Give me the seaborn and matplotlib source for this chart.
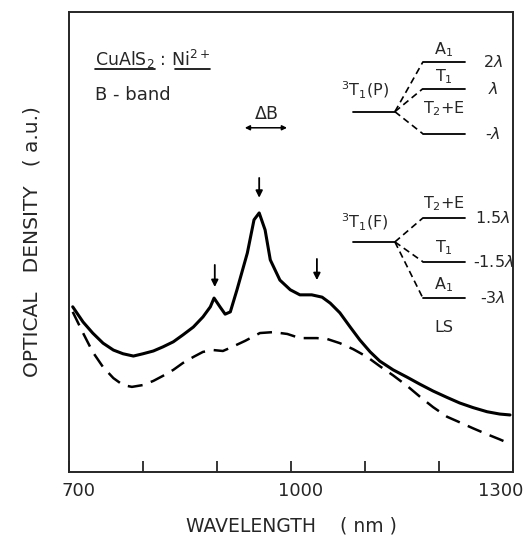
import numpy as np
import pandas as pd
import seaborn as sns
import matplotlib
matplotlib.use("Agg")
import matplotlib.pyplot as plt
from matplotlib.transforms import ScaledTranslation

# absorption spectra (wavelength in nm, optical density in a.u.)
solid_nm = [705, 719, 732, 746, 760, 773, 787, 800, 814, 827, 841, 854, 868, 881,
            891, 896, 904, 911, 918, 927, 941, 950, 957, 965, 972, 985, 999, 1012,
            1028, 1042, 1053, 1066, 1080, 1093, 1107, 1120, 1138, 1157, 1174, 1192,
            1211, 1228, 1246, 1265, 1282, 1296]
solid_od = [35.9, 32.6, 30.2, 28.0, 26.5, 25.7, 25.2, 25.7, 26.3, 27.2, 28.3, 29.8,
            31.5, 33.7, 35.9, 37.8, 35.9, 34.3, 34.8, 39.6, 47.6, 54.8, 56.3, 52.6,
            46.1, 41.7, 39.6, 38.5, 38.5, 38.0, 36.7, 34.6, 31.5, 28.7, 26.1, 24.1,
            22.2, 20.6, 19.1, 17.6, 16.2, 15.0, 14.0, 13.1, 12.6, 12.4]

dashed_nm = [705, 719, 732, 746, 760, 773, 785, 800, 814, 827, 841, 854, 868, 881,
             895, 908, 918, 938, 958, 976, 995, 1012, 1035, 1049, 1066, 1084, 1103,
             1120, 1138, 1157, 1174, 1192, 1211, 1228, 1246, 1265, 1282, 1292]
dashed_od = [34.8, 30.2, 26.1, 22.8, 20.4, 18.9, 18.5, 18.9, 19.8, 20.9, 22.2, 23.7,
             25.0, 26.1, 26.5, 26.3, 27.0, 28.5, 30.2, 30.4, 30.0, 29.1, 29.1, 28.9,
             28.0, 26.7, 25.0, 23.0, 21.0, 18.7, 16.4, 14.1, 12.0, 10.8, 9.5, 8.2,
             7.1, 6.4]

# marked band positions (arrows)
arrow_nm = [897, 957, 1035]
arrow_top = [45.0, 63.9, 46.3]
arrow_tip = [40.2, 59.6, 41.7]

xticks = [700, 800, 900, 1000, 1100, 1200, 1300]
xtick_labels = ["700", "", "", "1000", "", "", "1300"]

sns.set_style("ticks")
plt.rcParams["font.family"] = ["DejaVu Sans"]

fig = plt.figure(figsize=(5.24, 5.37), dpi=100)
ax = fig.add_axes([0.1317, 0.121, 0.8473, 0.857])

df_s = pd.DataFrame({"nm": solid_nm, "od": solid_od})
df_d = pd.DataFrame({"nm": dashed_nm, "od": dashed_od})
sns.lineplot(data=df_s, x="nm", y="od", ax=ax, color="black", lw=2.2, sort=False)
sns.lineplot(data=df_d, x="nm", y="od", ax=ax, color="black", lw=1.8, sort=False)
ax.lines[-1].set_dashes([6, 3.5])

for x, y0, y1 in zip(arrow_nm, arrow_top, arrow_tip):
    ax.annotate("", xy=(x, y1), xytext=(x, y0),
                arrowprops=dict(arrowstyle="-|>", color="black", lw=1.3,
                                mutation_scale=10, shrinkA=0, shrinkB=0))

ax.set_xlim(700, 1300)
ax.set_ylim(0, 100)
ax.set_xticks(xticks)
ax.set_xticklabels(xtick_labels, fontsize=13)
ax.set_yticks([])
ax.tick_params(axis="x", direction="in", length=8, width=1.3, pad=7)
for s in ax.spines.values():
    s.set_linewidth(1.4)
    s.set_visible(True)

# hand-lettered labels sit a little off their ticks in the original
shifts = {0: 0.09, 3: 0.10, 6: -0.12}
for i, lab in enumerate(ax.get_xticklabels()):
    if i in shifts:
        lab.set_transform(lab.get_transform() +
                          ScaledTranslation(shifts[i], 0, fig.dpi_scale_trans))

ax.set_xlabel("WAVELENGTH    ( nm )", fontsize=13.5, labelpad=12)
ax.set_ylabel("OPTICAL   DENSITY   ( a.u.)", fontsize=14.5, labelpad=20)

T = ax.transAxes
fs = 12.5
ax.text(0.059, 0.896, r"CuAlS$_2$ : Ni$^{2+}$", transform=T, fontsize=fs, va="center")
ax.plot([0.059, 0.194], [0.876, 0.876], transform=T, color="black", lw=1.2)
ax.plot([0.239, 0.318], [0.876, 0.876], transform=T, color="black", lw=1.2)
ax.text(0.059, 0.820, "B - band", transform=T, fontsize=13, va="center")
ax.text(0.444, 0.778, r"$\Delta$B", transform=T, fontsize=fs, va="center", ha="center")
ax.annotate("", xy=(0.396, 0.748), xytext=(0.491, 0.748), xycoords=T, textcoords=T,
            arrowprops=dict(arrowstyle="<|-|>", color="black", lw=1.1,
                            mutation_scale=7, shrinkA=0, shrinkB=0))


# energy level diagrams
def levels(y_ground, ys, names, name_ys, values, title, y_title):
    ax.plot([0.640, 0.734], [y_ground, y_ground], transform=T, color="black", lw=1.3)
    ax.text(0.667, y_title, title, transform=T, fontsize=11.5, ha="center", va="center")
    for y, n, ny, v in zip(ys, names, name_ys, values):
        ax.plot([0.734, 0.797], [y_ground, y], transform=T, color="black", lw=1.2,
                dashes=[4, 2.5])
        ax.plot([0.797, 0.892], [y, y], transform=T, color="black", lw=1.3)
        ax.text(0.844, ny, n, transform=T, fontsize=11.5, ha="center", va="center")
        ax.text(0.955, y, v, transform=T, fontsize=11.5, ha="center", va="center")


levels(0.783, [0.891, 0.833, 0.735], [r"A$_1$", r"T$_1$", r"T$_2$+E"],
       [0.918, 0.860, 0.789],
       [r"2$\lambda$", r"$\lambda$", r"-$\lambda$"], r"$^3$T$_1$(P)", 0.830)
levels(0.500, [0.552, 0.457, 0.378], [r"T$_2$+E", r"T$_1$", r"A$_1$"],
       [0.583, 0.487, 0.407],
       [r"1.5$\lambda$", r"-1.5$\lambda$", r"-3$\lambda$"], r"$^3$T$_1$(F)", 0.543)
ax.text(0.844, 0.315, "LS", transform=T, fontsize=11.5, ha="center", va="center")

fig.savefig("out.png", dpi=100)
